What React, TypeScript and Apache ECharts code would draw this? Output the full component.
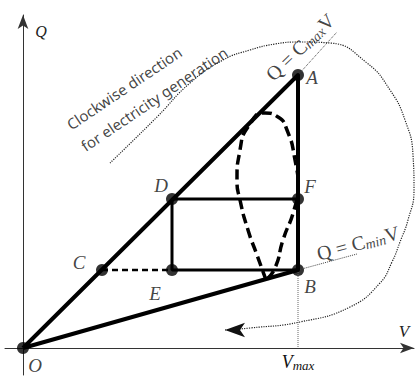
import React, { useEffect, useRef } from "react";
import * as echarts from "echarts";

// Key points of the cycle (V, Q)
const pointNames = ["O", "A", "B", "C", "D", "E", "F"];
const pointV = [0, 275, 275, 79, 149, 149, 275];
const pointQ = [0, 273, 78, 78, 149, 78, 149];

// Closed paths through named points
const trianglePath = ["O", "A", "B", "O"];
const rectPath = ["F", "D", "E", "B"];
const dashedPath = ["C", "E"];

// Guide lines
const cmaxLineV = [275, 314];
const cmaxLineQ = [273, 316];
const cminLineV = [275, 334];
const cminLineQ = [78, 94];
const vmaxLineV = [275, 275];
const vmaxLineQ = [78, 0];

// Dashed loop (ellipse-like cycle)
const loopV = [243, 234, 225, 217, 214, 217, 227, 242, 255, 264, 272, 275, 271, 260, 252, 243];
const loopQ = [68, 93, 118, 148, 168, 198, 224, 235, 231, 218, 188, 161, 138, 108, 80, 68];

// Dotted clockwise arc
const arcV = [87, 134, 167, 200, 227, 252, 277, 307, 344, 367, 382, 390, 391, 385, 377, 369, 357, 327, 277, 227, 202];
const arcQ = [185, 231, 265, 288, 298, 304, 306, 305, 285, 258, 228, 193, 158, 128, 106, 86, 65, 41, 26, 20, 18];

// Rotated annotations (text, anchor V, anchor Q, angle in degrees)
const noteTexts = [
  "Clockwise direction",
  "for electricity generation",
  "{m|Q = C}{s|max}{m|V}",
  "{m|Q = C}{s|min}{m|V}",
];
const noteV = [101, 131, 277, 335];
const noteQ = [260, 249, 301, 105];
const noteAngle = [34, 34, 44, 15];

const pt = (n: string) => {
  const i = pointNames.indexOf(n);
  return [pointV[i], pointQ[i]];
};
const zip = (a: number[], b: number[]) => a.map((v, i) => [v, b[i]]);

const labelOffsets: Record<string, number[]> = {
  O: [12, 17],
  A: [14, 2],
  B: [12, 16],
  C: [-23, -8],
  D: [-11, -14],
  E: [-17, 23],
  F: [12, -13],
};

const SERIF = "'Liberation Serif', 'DejaVu Serif', serif";
const SANS = "'Noto Sans', 'Open Sans', sans-serif";

export default function App() {
  const ref = useRef<HTMLDivElement>(null);
  useEffect(() => {
    if (!ref.current) return;
    const chart = echarts.init(ref.current, null, { renderer: "svg" });
    const arcData: any[] = zip(arcV, arcQ).map((p, i, arr) =>
      i === arr.length - 1
        ? { value: p, symbol: "arrow", symbolSize: [11, 20], symbolRotate: 90 }
        : { value: p, symbol: "none" }
    );
    const thin = { color: "#444", width: 1, type: "dotted" as const };
    const mathRich = {
      m: { fontFamily: SERIF, fontSize: 20, color: "#111" },
      s: { fontFamily: SERIF, fontStyle: "italic", fontSize: 14, color: "#111", padding: [8, 0, 0, 0] },
    };
    chart.setOption({
      animation: false,
      grid: { left: 5, right: 1, top: 15, bottom: 1 },
      xAxis: {
        type: "value",
        min: -18,
        max: 391,
        axisLine: {
          show: true,
          onZero: true,
          symbol: ["none", "arrow"],
          symbolSize: [8, 14],
          lineStyle: { color: "#333", width: 1 },
        },
        axisTick: { show: false },
        axisLabel: { show: false },
        splitLine: { show: false },
      },
      yAxis: {
        type: "value",
        min: -27,
        max: 333,
        axisLine: {
          show: true,
          onZero: true,
          symbol: ["none", "arrow"],
          symbolSize: [8, 14],
          lineStyle: { color: "#333", width: 1 },
        },
        axisTick: { show: false },
        axisLabel: { show: false },
        splitLine: { show: false },
      },
      series: [
        { type: "line", data: zip(vmaxLineV, vmaxLineQ), symbol: "none", lineStyle: { ...thin, color: "#666" } },
        { type: "line", data: zip(cmaxLineV, cmaxLineQ), symbol: "none", lineStyle: thin },
        { type: "line", data: zip(cminLineV, cminLineQ), symbol: "none", lineStyle: thin },
        {
          type: "line",
          data: arcData,
          smooth: 0.5,
          showSymbol: true,
          clip: false,
          itemStyle: { color: "#111" },
          lineStyle: { color: "#222", width: 1.2, type: "dotted" },
        },
        {
          type: "line",
          data: zip(loopV, loopQ),
          smooth: 0.6,
          symbol: "none",
          lineStyle: { color: "#000", width: 3.5, type: [10, 5] },
        },
        {
          type: "line",
          data: dashedPath.map(pt),
          symbol: "none",
          lineStyle: { color: "#000", width: 2.5, type: [6, 4] },
        },
        {
          type: "line",
          data: rectPath.map(pt),
          symbol: "none",
          lineStyle: { color: "#000", width: 3 },
        },
        {
          type: "line",
          data: trianglePath.map(pt),
          symbol: "none",
          lineStyle: { color: "#000", width: 4, join: "round" },
        },
        {
          type: "scatter",
          data: pointNames.map((n, i) => ({
            name: n,
            value: [pointV[i], pointQ[i]],
            label: { offset: labelOffsets[n] },
          })),
          symbolSize: 12,
          clip: false,
          itemStyle: { color: "#000" },
          label: {
            show: true,
            position: "inside",
            formatter: (p: any) => p.name,
            fontFamily: SERIF,
            fontStyle: "italic",
            fontSize: 19,
            color: "#111",
            align: "center",
            verticalAlign: "middle",
          },
        },
        {
          type: "scatter",
          symbolSize: 0,
          clip: false,
          silent: true,
          data: noteTexts.map((t, i) => ({
            name: t,
            value: [noteV[i], noteQ[i]],
            label: { rotate: noteAngle[i] },
          })),
          label: {
            show: true,
            position: "inside",
            formatter: (p: any) => p.name,
            fontFamily: SANS,
            fontSize: 15,
            color: "#111",
            align: "center",
            verticalAlign: "middle",
            rich: mathRich,
          },
        },
      ],
      graphic: [
        {
          type: "text",
          x: 41,
          y: 31,
          style: { text: "Q", fontFamily: SERIF, fontStyle: "italic", fontSize: 16, fill: "#222", align: "center", verticalAlign: "middle" },
        },
        {
          type: "text",
          x: 404,
          y: 331,
          style: { text: "V", fontFamily: SERIF, fontStyle: "italic", fontSize: 17, fill: "#222", align: "center", verticalAlign: "middle" },
        },
        {
          type: "text",
          x: 298,
          y: 362,
          style: {
            text: "{m|V}{s|max}",
            align: "center",
            verticalAlign: "middle",
            rich: {
              m: { fontFamily: SERIF, fontStyle: "italic", fontSize: 18, fill: "#111" },
              s: { fontFamily: SERIF, fontStyle: "italic", fontSize: 13, fill: "#111", padding: [6, 0, 0, 0] },
            },
          },
        },
      ],
    });
    return () => chart.dispose();
  }, []);
  return <div ref={ref} style={{ width: 415, height: 376, position: "absolute", left: 0, top: 0 }} />;
}
